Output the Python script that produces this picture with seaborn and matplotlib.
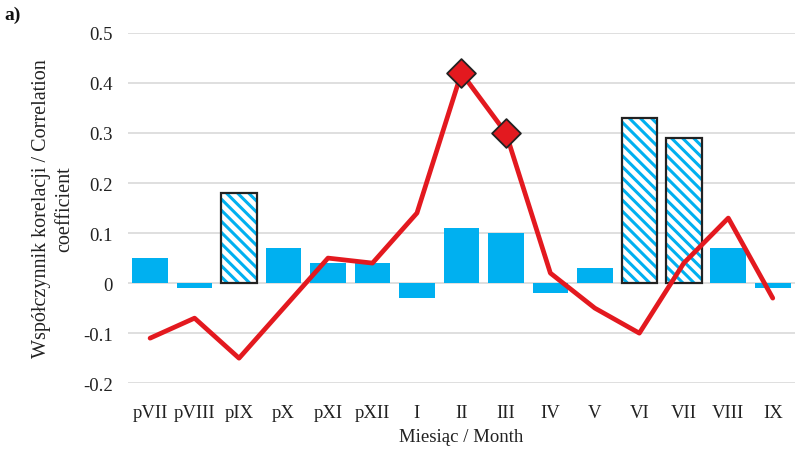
import matplotlib
matplotlib.use("Agg")
import matplotlib.pyplot as plt
import matplotlib.patches as mpatches
import numpy as np
import pandas as pd
import seaborn as sns

sns.set_style("white")
plt.rcParams["font.family"] = ["Liberation Serif", "DejaVu Serif"]
plt.rcParams["hatch.linewidth"] = 2.2

months = ["pVII", "pVIII", "pIX", "pX", "pXI", "pXII", "I", "II", "III",
          "IV", "V", "VI", "VII", "VIII", "IX"]
bar_values = [0.05, -0.01, 0.18, 0.07, 0.04, 0.04, -0.03, 0.11, 0.10,
              -0.02, 0.03, 0.33, 0.29, 0.07, -0.01]
bar_significant = [False, False, True, False, False, False, False, False, False,
                   False, False, True, True, False, False]
line_values = [-0.11, -0.07, -0.15, -0.05, 0.05, 0.04, 0.14, 0.42, 0.30,
               0.02, -0.05, -0.10, 0.04, 0.13, -0.03]
line_significant = [False, False, False, False, False, False, False, True, True,
                    False, False, False, False, False, False]

BLUE = "#00B0F0"
RED = "#E3191F"

df = pd.DataFrame({"month": months, "bar": bar_values, "line": line_values,
                   "bar_sig": bar_significant, "line_sig": line_significant})
df["pos"] = np.arange(len(df))

fig = plt.figure(figsize=(7.99, 4.52), dpi=100)
ax = fig.add_axes([0.160, 0.150, 0.835, 0.775])

# bars
sns.barplot(data=df, x="month", y="bar", color=BLUE, saturation=1, width=0.8,
            ax=ax, zorder=2)
for patch, sig in zip(ax.patches, df["bar_sig"]):
    patch.set_linewidth(0)
    if sig:
        # white bar with blue stripes and a black outline
        patch.set_facecolor("white")
        patch.set_edgecolor(BLUE)
        patch.set_hatch("\\\\\\")
        outline = mpatches.Rectangle(patch.get_xy(), patch.get_width(), patch.get_height(),
                                     fill=False, edgecolor="#222222", linewidth=1.6, zorder=3)
        ax.add_patch(outline)

# correlation line
sns.lineplot(data=df, x="pos", y="line", color=RED, linewidth=3.4, sort=False,
             ax=ax, zorder=4)
sig = df[df["line_sig"]]
ax.scatter(sig["pos"], sig["line"], marker="D", s=215, color=RED,
           edgecolor="#222222", linewidth=1.3, zorder=5)

ax.set_xlim(-0.5, len(months) - 0.5)
ax.set_ylim(-0.2, 0.5)
ax.set_yticks(np.arange(-0.2, 0.51, 0.1))
ax.set_yticklabels(["-0.2", "-0.1", "0", "0.1", "0.2", "0.3", "0.4", "0.5"])
ax.set_xticks(df["pos"])
ax.set_xticklabels(months)
ax.grid(axis="y", color="#d9d9d9", linewidth=1.2, zorder=0)
ax.set_axisbelow(True)
for s in ax.spines.values():
    s.set_visible(False)
ax.tick_params(axis="both", length=0, labelsize=13.5, colors="#222222")
ax.tick_params(axis="x", pad=15)
ax.tick_params(axis="y", pad=11)

ax.set_xlabel("Miesiąc / Month", fontsize=13.5, color="#222222", labelpad=5)
ax.set_ylabel("Współczynnik korelacji / Correlation\ncoefficient", fontsize=14.5,
              color="#222222", linespacing=1.3, labelpad=6)

fig.text(0.006, 0.955, "a)", fontsize=14, fontweight="bold", color="#111111")

fig.savefig("out.png", dpi=100)
